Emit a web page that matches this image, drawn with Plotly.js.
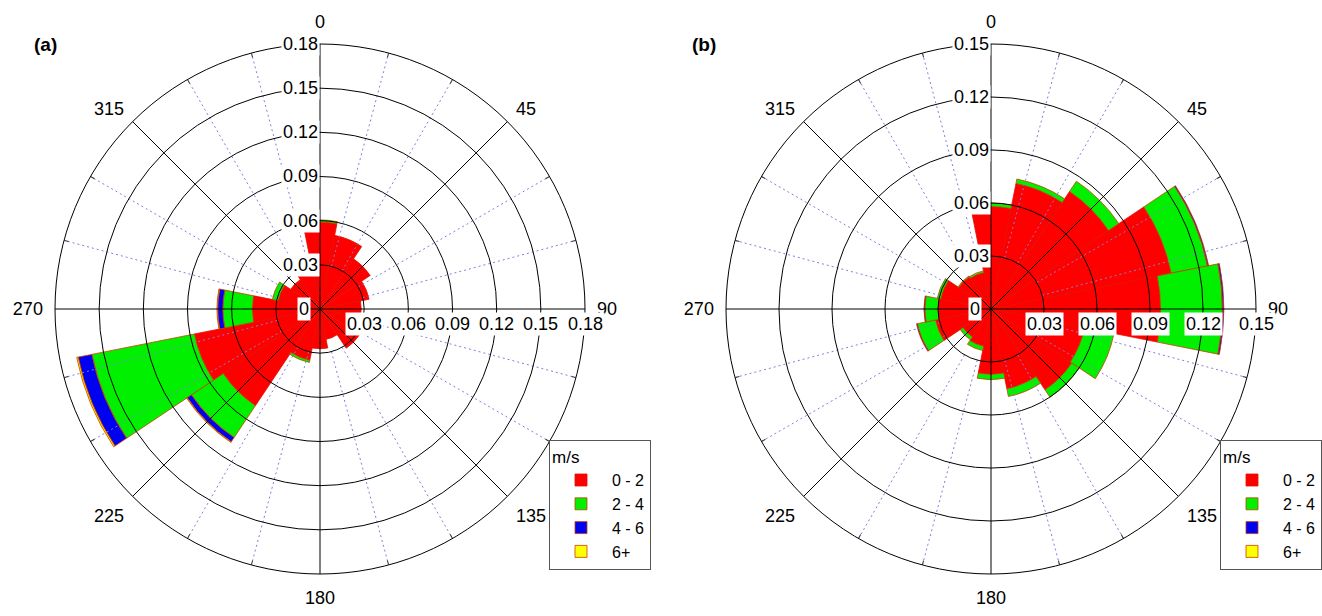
<!DOCTYPE html>
<html>
<head>
<meta charset="utf-8">
<script src="https://cdn.plot.ly/plotly-3.0.1.min.js"></script>
<style>html,body{margin:0;padding:0;background:#fff}#chart{width:1322px;height:616px}</style>
</head>
<body>
<div id="chart"></div>
<script>
// ---- data ----
const directions = [0, 22.5, 45, 67.5, 90, 112.5, 135, 157.5, 180, 202.5, 225, 247.5, 270, 292.5, 315, 337.5];
const speedClasses = ['0 - 2', '2 - 4', '4 - 6', '6+'];

// (a)
const a_0_2 = [0.059, 0.051, 0.041, 0.034, 0.028, 0.030, 0.032, 0.021, 0.027, 0.0355, 0.079, 0.087, 0.046, 0.029, 0.024, 0.038];
const a_2_4 = [0.0015, 0, 0, 0, 0, 0, 0, 0, 0, 0.0015, 0.026, 0.071, 0.020, 0.004, 0, 0];
const a_4_6 = [0, 0, 0, 0, 0, 0, 0, 0, 0, 0, 0.0035, 0.0095, 0.0035, 0, 0, 0];
const a_6p  = [0, 0, 0, 0, 0, 0, 0, 0, 0, 0, 0.0005, 0.001, 0.0005, 0, 0, 0];

// (b)
const b_0_2 = [0.058, 0.0725, 0.080, 0.104, 0.096, 0.054, 0.055, 0.046, 0.037, 0.0215, 0.019, 0.032, 0.030, 0.029, 0.022, 0.021];
const b_2_4 = [0.002, 0.0025, 0.007, 0.021, 0.035, 0.017, 0.005, 0.0045, 0.003, 0.0025, 0.002, 0.0105, 0.0075, 0.002, 0.0005, 0.001];
const b_4_6 = [0, 0, 0, 0.0006, 0.0008, 0, 0, 0, 0, 0, 0, 0.0005, 0.0005, 0, 0, 0];
const b_6p  = [0, 0, 0, 0, 0, 0, 0, 0, 0, 0, 0, 0, 0, 0, 0, 0];

// axis ticks
const rTicksA = [0.03, 0.06, 0.09, 0.12, 0.15, 0.18];
const rTextA  = ['0.03', '0.06', '0.09', '0.12', '0.15', '0.18'];
const rTicksB = [0.03, 0.06, 0.09, 0.12, 0.15];
const rTextB  = ['0.03', '0.06', '0.09', '0.12', '0.15'];
const angTicks = [0, 45, 90, 135, 180, 225, 270, 315];
const angText  = ['0', '45', '90', '135', '180', '225', '270', '315'];
const fineAngles = [15, 30, 60, 75, 105, 120, 150, 165, 195, 210, 240, 255, 285, 300, 330, 345];

// ---- style ----
const colors = ['#ff0000', '#00f000', '#0000f0', '#ffff00'];
const FONT = 'Arial, "Liberation Sans", sans-serif';
const edge = {color: '#c84000', width: 0.8};

const W = 1322, H = 616;
const cyTop = 44, cyBot = 574;
const domY = [(H - cyBot) / H, (H - cyTop) / H];
const domXA = [55 / W, 585 / W];
const domXB = [726 / W, 1256 / W];

const traces = [];
function addRose(series, sub, legendId) {
  series.forEach((vals, i) => {
    traces.push({
      type: 'barpolar', r: vals, theta: directions, width: directions.map(() => 22.5),
      name: speedClasses[i], subplot: sub, legend: legendId,
      marker: {color: colors[i], line: {color: i === 0 ? '#e01000' : edge.color, width: edge.width}},
      hoverinfo: 'skip'
    });
  });
}
addRose([a_0_2, a_2_4, a_4_6, a_6p], 'polar', 'legend');
addRose([b_0_2, b_2_4, b_4_6, b_6p], 'polar4', 'legend2');

// helper (invisible) traces so overlay subplots / axes exist
function helperPolar(sub, ticks) {
  traces.push({type: 'scatterpolar', r: ticks, theta: ticks.map(() => 0), mode: 'markers',
    marker: {opacity: 0}, subplot: sub, showlegend: false, hoverinfo: 'skip'});
}
helperPolar('polar2', rTicksA); helperPolar('polar3', rTicksA);
helperPolar('polar5', rTicksB); helperPolar('polar6', rTicksB);
traces.push({type: 'scatter', x: rTicksA, y: rTicksA.map(() => 0), xaxis: 'x', yaxis: 'y', mode: 'markers',
  marker: {opacity: 0}, showlegend: false, hoverinfo: 'skip'});
traces.push({type: 'scatter', x: rTicksB, y: rTicksB.map(() => 0), xaxis: 'x2', yaxis: 'y2', mode: 'markers',
  marker: {opacity: 0}, showlegend: false, hoverinfo: 'skip'});

function barPolar(domX, rmax) {
  return {
    domain: {x: domX, y: domY}, bgcolor: 'white', bargap: 0, barmode: 'stack',
    radialaxis: {range: [0, rmax], visible: false},
    angularaxis: {rotation: 90, direction: 'clockwise', visible: false}
  };
}
function dotPolar(domX, rmax) {
  return {
    domain: {x: domX, y: domY}, bgcolor: 'rgba(0,0,0,0)', hole: 0.03 / rmax,
    radialaxis: {range: [0.03, rmax], showgrid: false, showline: false, showticklabels: false, ticks: ''},
    angularaxis: {rotation: 90, direction: 'clockwise', tickmode: 'array', tickvals: fineAngles,
      showticklabels: false, showline: false, ticks: 'inside', ticklen: 4, tickcolor: '#333',
      gridcolor: '#8080dc', gridwidth: 1, griddash: '2px,3px'}
  };
}
function blackPolar(domX, rmax, ticks) {
  return {
    domain: {x: domX, y: domY}, bgcolor: 'rgba(0,0,0,0)',
    radialaxis: {range: [0, rmax], tickmode: 'array', tickvals: ticks, showgrid: true, gridcolor: '#000',
      gridwidth: 1, showline: false, showticklabels: false, ticks: ''},
    angularaxis: {rotation: 90, direction: 'clockwise', tickmode: 'array', tickvals: angTicks, ticktext: angText,
      showline: true, linecolor: '#000', linewidth: 1, gridcolor: '#000', gridwidth: 1,
      ticks: 'outside', ticklen: 8, tickcolor: 'rgba(0,0,0,0)',
      tickfont: {family: FONT, size: 18, color: '#000'}}
  };
}

const annotations = [];
function radialLabels(xr, yr, ticks, texts) {
  ticks.forEach((t, i) => {
    annotations.push({xref: xr, yref: yr, x: 0, y: t, text: texts[i], showarrow: false,
      xanchor: 'right', yanchor: 'middle', bgcolor: 'white', borderpad: 1,
      font: {family: FONT, size: 18, color: '#000'}});
    annotations.push({xref: xr, yref: yr, x: t, y: 0, text: texts[i], showarrow: false,
      xanchor: 'center', yanchor: 'top', yshift: -3, bgcolor: 'white', borderpad: 1,
      font: {family: FONT, size: 18, color: '#000'}});
  });
  annotations.push({xref: xr, yref: yr, x: 0, y: 0, text: '0', showarrow: false,
    xanchor: 'right', yanchor: 'middle', xshift: -9, bgcolor: 'white', borderpad: 1,
    font: {family: FONT, size: 18, color: '#000'}});
}
radialLabels('x', 'y', rTicksA, rTextA);
radialLabels('x2', 'y2', rTicksB, rTextB);
annotations.push({xref: 'paper', yref: 'paper', x: 32 / W, y: 1 - 45 / H, xanchor: 'left', yanchor: 'middle',
  text: '<b>(a)</b>', showarrow: false, font: {family: FONT, size: 19, color: '#000'}});
annotations.push({xref: 'paper', yref: 'paper', x: 690 / W, y: 1 - 45 / H, xanchor: 'left', yanchor: 'middle',
  text: '<b>(b)</b>', showarrow: false, font: {family: FONT, size: 19, color: '#000'}});

const legendStyle = (x) => ({
  x: x, y: 1 - 440 / H, xanchor: 'left', yanchor: 'top', bgcolor: 'white', bordercolor: '#555', borderwidth: 1,
  title: {text: 'm/s', font: {family: FONT, size: 17, color: '#000'}},
  font: {family: FONT, size: 16, color: '#000'}, traceorder: 'normal', itemclick: false, itemwidth: 52
});

const axHidden = (dom, rmax, anchor) => ({domain: dom, range: [-rmax, rmax], visible: false, anchor: anchor, fixedrange: true});

const layout = {
  width: W, height: H, margin: {l: 0, r: 0, t: 0, b: 0},
  paper_bgcolor: 'white', plot_bgcolor: 'rgba(0,0,0,0)',
  font: {family: FONT, color: '#000'},
  polar: barPolar(domXA, 0.18), polar2: dotPolar(domXA, 0.18), polar3: blackPolar(domXA, 0.18, rTicksA),
  polar4: barPolar(domXB, 0.15), polar5: dotPolar(domXB, 0.15), polar6: blackPolar(domXB, 0.15, rTicksB),
  xaxis: axHidden(domXA, 0.18, 'y'), yaxis: axHidden(domY, 0.18, 'x'),
  xaxis2: axHidden(domXB, 0.15, 'y2'), yaxis2: axHidden(domY, 0.15, 'x2'),
  legend: legendStyle(549 / W), legend2: legendStyle(1220 / W),
  annotations: annotations, showlegend: true
};

Plotly.newPlot('chart', traces, layout, {staticPlot: true, displayModeBar: false});
</script>
</body>
</html>
